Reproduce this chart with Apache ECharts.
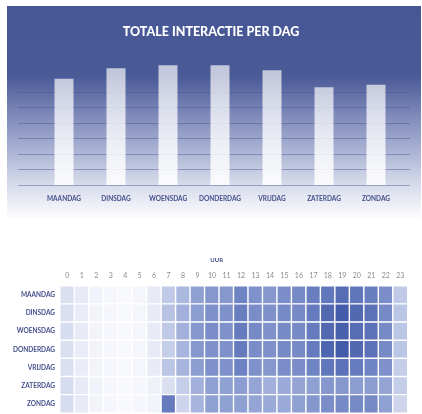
<!DOCTYPE html>
<html>
<head>
<meta charset="utf-8">
<script src="https://cdn.jsdelivr.net/npm/echarts@6/dist/echarts.min.js"></script>
<style>
  html, body { margin: 0; padding: 0; background: #fff; }
  #chart { width: 422px; height: 414px; }
</style>
</head>
<body>
<div id="chart"></div>
<script>
// dagen + totale interactie (boven)
const days = ['MAANDAG', 'DINSDAG', 'WOENSDAG', 'DONDERDAG', 'VRIJDAG', 'ZATERDAG', 'ZONDAG']
const totals = [686, 754, 772, 772, 740, 630, 647]

// uren (heatmap)
const hours = ['0','1','2','3','4','5','6','7','8','9','10','11','12','13','14','15','16','17','18','19','20','21','22','23']
const maandag   = [18, 10, 5, 2, 1, 3, 10, 30, 38, 50, 55, 55, 65, 58, 55, 60, 62, 68, 72, 78, 72, 68, 60, 30]
const dinsdag   = [18, 9, 4, 2, 1, 3, 10, 33, 42, 52, 58, 58, 68, 60, 58, 62, 62, 70, 80, 88, 80, 75, 62, 32]
const woensdag  = [20, 10, 4, 2, 1, 3, 10, 30, 42, 55, 60, 58, 70, 62, 58, 62, 62, 70, 80, 85, 78, 75, 62, 32]
const donderdag = [18, 9, 4, 2, 1, 3, 10, 28, 40, 55, 58, 58, 70, 60, 58, 62, 62, 70, 82, 88, 80, 75, 62, 32]
const vrijdag   = [18, 9, 4, 2, 1, 3, 10, 32, 40, 52, 58, 58, 66, 58, 55, 60, 60, 65, 72, 75, 70, 65, 58, 28]
const zaterdag  = [20, 10, 5, 2, 1, 2, 6, 18, 28, 42, 50, 50, 52, 48, 42, 45, 48, 50, 55, 55, 52, 52, 48, 28]
const zondag    = [20, 10, 4, 2, 1, 2, 5, 70, 25, 40, 50, 50, 50, 48, 45, 45, 50, 55, 60, 62, 62, 62, 50, 25]

const rows = [maandag, dinsdag, woensdag, donderdag, vrijdag, zaterdag, zondag]
let heat = []
rows.map((row, d) => {
    row.map((v, h) => heat.push([h, d, v]))
})

const labelBlue = '#45508c'
const font = 'Lato, "Open Sans", sans-serif'

let chart = echarts.init(document.getElementById('chart'), null, { renderer: 'canvas' })

chart.setOption({
    animation: false,
    textStyle: { fontFamily: font },
    graphic: [
        {
            type: 'rect',
            z: -10,
            shape: { x: 7, y: 6, width: 414, height: 212 },
            style: {
                fill: new echarts.graphic.LinearGradient(0, 0, 0, 1, [
                    { offset: 0, color: '#475795' },
                    { offset: 0.33, color: '#4a5a97' },
                    { offset: 0.48, color: '#7581b3' },
                    { offset: 0.68, color: '#a9b2d3' },
                    { offset: 0.84, color: '#d6dbeb' },
                    { offset: 1, color: '#fcfcfe' }
                ])
            }
        }
    ],
    title: {
        text: 'TOTALE INTERACTIE PER DAG',
        left: 'center',
        top: 20,
        textStyle: { color: '#fff', fontSize: 12.5, fontWeight: 900, fontFamily: font }
    },
    visualMap: {
        show: false,
        seriesIndex: 1,
        min: 0,
        max: 90,
        inRange: { color: ['#f9fafd', '#d3d9ee', '#9aaad8', '#6a7fc0', '#3f57a7'] }
    },
    grid: [
        // hulplijnen
        { left: 18, right: 12, top: 92, height: 93 },
        // staven
        { left: 38, right: 20, top: 45.5, height: 139.5 },
        // heatmap
        { left: 60, right: 14.5, top: 286, bottom: 1 }
    ],
    xAxis: [
        { gridIndex: 0, type: 'value', show: false },
        {
            gridIndex: 1,
            type: 'category',
            data: days,
            axisLine: { show: false },
            axisTick: { show: false },
            axisLabel: { interval: 0, color: labelBlue, fontSize: 6.5, fontWeight: 'bold', margin: 10 }
        },
        {
            gridIndex: 2,
            type: 'category',
            data: hours,
            position: 'top',
            name: 'UUR',
            nameLocation: 'middle',
            nameGap: 23,
            nameTextStyle: { color: labelBlue, fontSize: 6, fontWeight: 'bold', padding: [0, 34, 0, 0] },
            axisLine: { show: false },
            axisTick: { show: false },
            splitLine: { show: false },
            axisLabel: { interval: 0, color: '#8a8a8a', fontSize: 7, margin: 7 }
        }
    ],
    yAxis: [
        {
            gridIndex: 0,
            type: 'value',
            min: 0,
            max: 600,
            interval: 100,
            axisLabel: { show: false },
            axisLine: { show: false },
            axisTick: { show: false },
            splitLine: { lineStyle: { color: 'rgba(70,84,145,0.45)', width: 1 } }
        },
        {
            gridIndex: 1,
            type: 'value',
            min: 0,
            max: 900,
            show: false,
            splitLine: { show: false }
        },
        {
            gridIndex: 2,
            type: 'category',
            data: days,
            inverse: true,
            axisLine: { show: false },
            axisTick: { show: false },
            splitLine: { show: false },
            axisLabel: { interval: 0, color: labelBlue, fontSize: 6.5, fontWeight: 'bold', margin: 5 }
        }
    ],
    series: [
        {
            type: 'bar',
            xAxisIndex: 1,
            yAxisIndex: 1,
            data: totals,
            barWidth: 19,
            itemStyle: {
                color: new echarts.graphic.LinearGradient(0, 0, 0, 1, [
                    { offset: 0, color: 'rgba(255,255,255,0.66)' },
                    { offset: 1, color: 'rgba(255,255,255,0.88)' }
                ])
            }
        },
        {
            type: 'heatmap',
            xAxisIndex: 2,
            yAxisIndex: 2,
            data: heat,
            itemStyle: { borderColor: '#fff', borderWidth: 1.4 }
        }
    ]
})
</script>
</body>
</html>
